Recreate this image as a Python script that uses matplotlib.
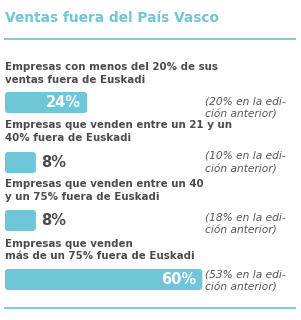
import matplotlib
matplotlib.use("Agg")
import matplotlib.pyplot as plt
from matplotlib.patches import FancyBboxPatch

title = "Ventas fuera del País Vasco"
labels = [
    "Empresas con menos del 20% de sus\nventas fuera de Euskadi",
    "Empresas que venden entre un 21 y un\n40% fuera de Euskadi",
    "Empresas que venden entre un 40\ny un 75% fuera de Euskadi",
    "Empresas que venden\nmás de un 75% fuera de Euskadi",
]
values = [24, 8, 8, 60]
previous = [20, 10, 18, 53]

blue = "#6fc6d9"
dark = "#4b4b4b"
grey = "#555555"

fig = plt.figure(figsize=(3.01, 3.20), dpi=100)
ax = fig.add_axes([0, 0, 1, 1])
ax.set_xlim(0, 301)
ax.set_ylim(320, 0)
ax.axis("off")

ax.text(5, 18, title, color=blue, fontsize=9.9, fontweight="bold", va="center", ha="left")
ax.plot([5, 295], [39, 39], color=blue, lw=1.3)
ax.plot([5, 295], [308, 308], color=blue, lw=1.3)

x0 = 5
scale = 3.2
base = 5.3
label_y = [73.5, 131.5, 190.5, 250]
bar_top = [92, 152, 210, 269]
note_y = [108, 162.5, 224, 281]
bar_h = 21

for i, v in enumerate(values):
    ax.text(x0, label_y[i], labels[i], color=dark, fontsize=7.4, fontweight="bold",
            va="center", ha="left", linespacing=1.3)
    w = base + scale * v
    bar = FancyBboxPatch((x0, bar_top[i]), w, bar_h,
                         boxstyle="round,pad=0,rounding_size=3",
                         fc=blue, ec="none")
    ax.add_patch(bar)
    yc = bar_top[i] + bar_h / 2
    if v > 20:
        ax.text(x0 + w - 6, yc, f"{v}%", color="white", fontsize=10.5,
                fontweight="bold", va="center", ha="right")
    else:
        ax.text(x0 + w + 5, yc, f"{v}%", color=dark, fontsize=10.5,
                fontweight="bold", va="center", ha="left")
    ax.text(205, note_y[i], f"({previous[i]}% en la edi-\nción anterior)", color=grey,
            fontsize=7.7, style="italic", va="center", ha="left", linespacing=1.4)

fig.savefig("out.png", dpi=100)
